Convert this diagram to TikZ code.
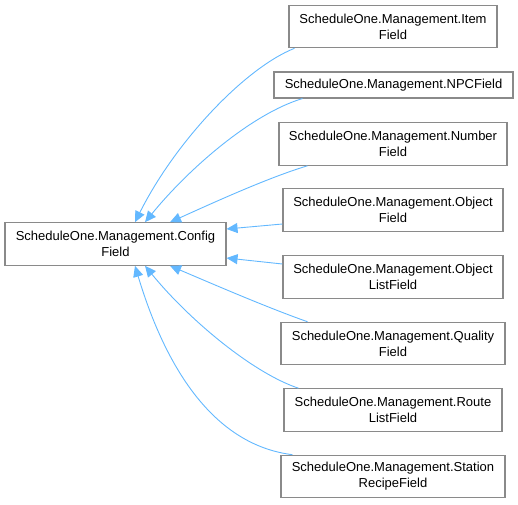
\documentclass[tikz,border=0pt]{standalone}
\usepackage{fontspec}
\setmainfont{Liberation Sans}
\usepackage{xcolor}
\usetikzlibrary{arrows.meta, calc}

\definecolor{edgeblue}{HTML}{63B8FF}
\definecolor{boxgray}{HTML}{8A8A8A}

\begin{document}
\begin{tikzpicture}[
  x=1pt, y=-1pt,
  font=\fontsize{13}{16}\selectfont,
  cls/.style={draw=boxgray, line width=1.1pt, fill=white, align=center, inner sep=0pt, minimum height=42.5pt},
  onecls/.style={cls, minimum height=26pt},
  line/.style={-{Triangle[length=11pt, width=10pt]}, draw=edgeblue, line width=0.9pt}
]
\useasboundingbox (0,0) rectangle (518,504);

% Base class
\node[cls, minimum width=221pt] (config) at (115.5,244) {ScheduleOne.Management.Config\\Field};

% Derived classes
\node[cls, minimum width=208pt] (item) at (393,26.5) {ScheduleOne.Management.Item\\Field};
\node[onecls, minimum width=239pt] (npc) at (393.5,85) {ScheduleOne.Management.NPCField};
\node[cls, minimum width=228pt] (number) at (393,144) {ScheduleOne.Management.Number\\Field};
\node[cls, minimum width=220pt] (object) at (393,210) {ScheduleOne.Management.Object\\Field};
\node[cls, minimum width=220pt] (objlist) at (393,277) {ScheduleOne.Management.Object\\ListField};
\node[cls, minimum width=224pt] (quality) at (393,343.5) {ScheduleOne.Management.Quality\\Field};
\node[cls, minimum width=218pt] (routelist) at (393,410) {ScheduleOne.Management.Route\\ListField};
\node[cls, minimum width=224pt] (recipe) at (393,476.5) {ScheduleOne.Management.Station\\RecipeField};

% Inheritance edges
\draw[line] ($(item.south west)+(6,0)$) .. controls +(-50,20) and +(40,-80) .. ($(config.north)+(19.5,0)$);
\draw[line] ($(npc.south west)+(29,0)$) .. controls +(-50,15) and +(45,-55) .. ($(config.north)+(29.5,0)$);
\draw[line] ($(number.south west)+(29,0)$) .. controls +(-40,12) and +(40,-18) .. ($(config.north)+(54.5,0)$);
\draw[line] ($(object.west)+(0,14)$) -- ($(config.east)+(0,-15)$);
\draw[line] ($(objlist.west)+(0,-13)$) -- ($(config.east)+(0,14)$);
\draw[line] ($(quality.north west)+(27,0)$) .. controls +(-40,-14) and +(40,17) .. ($(config.south)+(54.5,0)$);
\draw[line] ($(routelist.north west)+(15,0)$) .. controls +(-45,-15) and +(45,55) .. ($(config.south)+(29.5,0)$);
\draw[line] ($(recipe.north west)+(12,0)$) .. controls +(-80,-10) and +(30,100) .. ($(config.south)+(19.5,0)$);

\end{tikzpicture}
\end{document}
